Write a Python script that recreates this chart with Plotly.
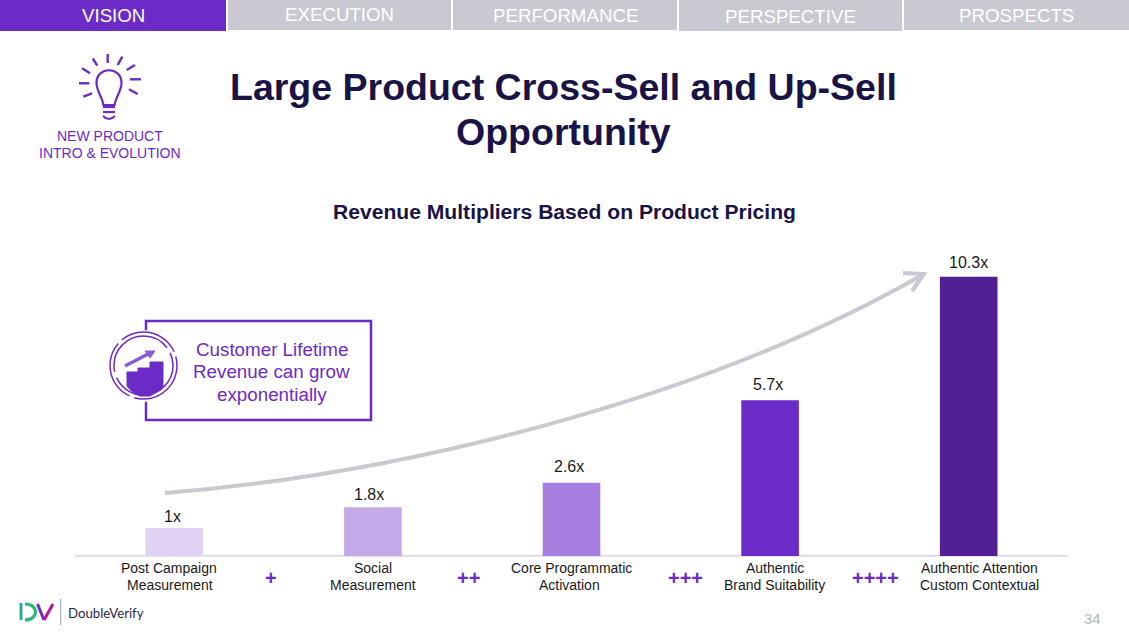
import plotly.graph_objects as go

W, H = 1129, 635
L, R, T, B = 75, 61, 240, 79
categories = ["Post Campaign<br>Measurement", "Social<br>Measurement", "Core Programmatic<br>Activation",
              "Authentic<br>Brand Suitability", "Authentic Attention<br>Custom Contextual"]
multipliers = [1.03, 1.8, 2.7, 5.75, 10.3]
value_labels = ["1x", "1.8x", "2.6x", "5.7x", "10.3x"]
bar_colors = ["#E0D2F3", "#C4A9E9", "#A77FE1", "#6C2BC6", "#522092"]
tabs = ["VISION", "EXECUTION", "PERFORMANCE", "PERSPECTIVE", "PROSPECTS"]
PURPLE = "#6C2BC6"
NAVY = "#1A1446"
GREY = "#C9C9D2"
FONT = "Liberation Sans"

PW, PH = W - L - R, H - T - B
px = lambda x: (x - L) / PW
py = lambda y: 1 - (y - T) / PH


def rect(x0, y0, x1, y1, fill=None, line=None, lw=0, layer="above"):
    return dict(type="rect", xref="paper", yref="paper", x0=px(x0), x1=px(x1), y0=py(y0), y1=py(y1),
                fillcolor=fill or "rgba(0,0,0,0)", line=dict(color=line or "rgba(0,0,0,0)", width=lw), layer=layer)


def path(cmds, color=PURPLE, lw=2, fill=None, dash=None):
    out = []
    for c in cmds:
        if isinstance(c, str):
            out.append(c)
        else:
            out.append(f"{px(c[0]):.5f},{py(c[1]):.5f}")
    return dict(type="path", xref="paper", yref="paper", path=" ".join(out),
                line=dict(color=color, width=lw, dash=dash or "solid"),
                fillcolor=fill or "rgba(0,0,0,0)", layer="above")


def seg(x0, y0, x1, y1, color=PURPLE, lw=2):
    return path(["M", (x0, y0), "L", (x1, y1)], color, lw)


def circle(cx, cy, r, fill=None, line=PURPLE, lw=1.5, dash=None):
    return dict(type="circle", xref="paper", yref="paper", x0=px(cx - r), x1=px(cx + r), y0=py(cy - r), y1=py(cy + r),
                fillcolor=fill or "rgba(0,0,0,0)", line=dict(color=line, width=lw, dash=dash or "solid"), layer="above")


def label(x, y, text, size=14, color="#1a1a1a", bold=False, family=FONT, anchor="center"):
    return dict(xref="paper", yref="paper", x=px(x), y=py(y), xanchor=anchor, yanchor="middle", showarrow=False,
                text=f"<b>{text}</b>" if bold else text, align="center",
                font=dict(size=size, color=color, family=family))


fig = go.Figure(go.Bar(
    x=categories, y=multipliers,
    marker=dict(color=bar_colors, line=dict(width=0)), width=0.29, hoverinfo="skip",
))

shapes = [rect(75, 554.8, 1068, 556.8, fill="#E0D9EE", layer="below")]
tab_boxes = [(0, 226, 31), (228, 451, 30), (453, 677, 30), (679, 902, 31), (904, 1129, 30)]
tab_y = [15, 14.5, 15, 16, 15]
annots = []
for i, (name, (a, b, h)) in enumerate(zip(tabs, tab_boxes)):
    shapes.append(rect(a, 0, b, h, fill=PURPLE if i == 0 else GREY))
    annots.append(label((a + b) / 2, tab_y[i], name, 18.7, "#ffffff"))

# value labels, offset from the top of each bar as in the reference
label_dx = [-2, -4, -3, -2, 0]
label_dy = [1, 2, 6, 5, 4]
for c, v, t, dx, dy in zip(categories, multipliers, value_labels, label_dx, label_dy):
    annots.append(dict(xref="x", yref="y", x=c, y=v, xanchor="center", yanchor="bottom", showarrow=False, text=t,
                       xshift=dx, yshift=dy, font=dict(size=16, color="#1a1a1a", family=FONT)))

# category labels: two lines, 17px apart, shifted like the reference
cat_dx = [[-5, -4], [0, 0], [0, -2], [4.5, 4.5], [10.5, 11]]
for c, dxs in zip(categories, cat_dx):
    for line_no, (txt, dx) in enumerate(zip(c.split("<br>"), dxs)):
        annots.append(dict(xref="x", yref="paper", x=c, y=py(568 + 17 * line_no), xanchor="center", yanchor="middle",
                           showarrow=False, text=txt, xshift=dx, font=dict(size=14, color="#1a1a1a", family=FONT)))

# growth arrow
shapes.append(path(["M", (165, 493), "C", (390, 475), (695, 405), (924, 274)], GREY, 4))
shapes.append(path(["M", (903, 273), "L", (924, 274), "L", (912, 291)], GREY, 4))

# call-out box and badge
shapes.append(rect(146, 321, 371, 420, line=PURPLE, lw=2.5))
shapes.append(circle(144, 366, 36, fill="#ffffff", line="#ffffff", lw=0))
shapes.append(circle(143.5, 365.5, 33.5, lw=1.5, dash="62px,5px"))
shapes.append(circle(143.5, 365.5, 29.5, lw=1.5, dash="80px,6px"))
shapes.append(path(["M", (127, 386), "L", (127, 372), "L", (138, 372), "L", (138, 368), "L", (150, 368), "L", (150, 362),
                    "L", (163, 362), "L", (163, 386), "Q", (158, 392), (150, 396), "L", (140, 396),
                    "Q", (132, 393), (127, 386), "Z"], PURPLE, 1, fill=PURPLE))
shapes.append(seg(125, 366, 150, 353, "#8A5AD6", 3.5))
shapes.append(path(["M", (145, 351), "L", (155, 351), "L", (150, 358), "Z"], "#8A5AD6", 1, fill="#8A5AD6"))

# light bulb
shapes.append(path(["M", (103.5, 105), "C", (102, 96), (96.5, 91), (96.5, 83), "C", (96.5, 66), (121.5, 66), (121.5, 83),
                    "C", (121.5, 91), (116, 96), (114.5, 105), "Z"], PURPLE, 2.2))
shapes.append(seg(103, 107, 115, 107, PURPLE, 2.2))
shapes.append(seg(103, 112, 115, 112, PURPLE, 2.2))
shapes.append(path(["M", (103, 116), "Q", (109, 122), (115, 116)], PURPLE, 2.2))
for r in [(107.7, 54, 107.7, 63), (92.7, 58.3, 97.3, 65.7), (122.3, 56.7, 117.7, 65), (82, 68.3, 90, 73.3),
          (135, 65, 126.7, 70), (79, 83.3, 89.3, 83.3), (130, 79.3, 141, 79.3), (83.3, 96.7, 92, 93.3),
          (129, 89.3, 137.7, 94)]:
    shapes.append(seg(*r, PURPLE, 2.4))

# logo
shapes.append(seg(21, 603, 21, 620, "#18A8A0", 2.8))
shapes.append(path(["M", (25, 604), "C", (39, 604), (39, 620), (25, 620)], "#2BB673", 3))
shapes.append(seg(37.5, 604, 44, 620, "#6C2BC6", 3))
shapes.append(seg(44, 620, 53, 604, "#B5179E", 3))
shapes.append(seg(60.7, 599, 60.7, 625, "#9a9aa5", 1))

annots += [
    label(563, 87, "Large Product Cross-Sell and Up-Sell", 37.5, NAVY, True),
    label(563, 132, "Opportunity", 37.5, NAVY, True),
    label(564, 211.5, "Revenue Multipliers Based on Product Pricing", 21.1, NAVY, True),
    label(110, 136, "NEW PRODUCT", 14, PURPLE),
    label(110, 153, "INTRO &amp; EVOLUTION", 14, PURPLE),
    label(271.5, 349.5, "Customer Lifetime", 18.8, PURPLE),
    label(271.5, 371.5, "Revenue can grow", 18.8, PURPLE),
    label(271.5, 394.5, "exponentially", 18.8, PURPLE),
    label(271, 578, "+", 20, PURPLE, True),
    label(468, 578, "++", 20, PURPLE, True),
    label(685, 578, "+++", 20, PURPLE, True),
    label(875, 578, "++++", 20, PURPLE, True),
    label(66, 613, "DoubleVerify", 13.2, "#2A2845", family="Lato", anchor="left"),
    label(1092, 618, "34", 15, "#b5b5bd"),
]

fig.update_layout(
    width=W, height=H, autosize=False, showlegend=False, plot_bgcolor="#ffffff", paper_bgcolor="#ffffff",
    margin=dict(l=L, r=R, t=T, b=B), shapes=shapes, annotations=annots,
    font=dict(family=FONT),
    xaxis=dict(type="category", showgrid=False, showline=False, ticks="", zeroline=False,
               showticklabels=False),
    yaxis=dict(visible=False, range=[0, 11.66], zeroline=False),
)
fig.write_html("out.html", config={"displayModeBar": False},
               post_script="document.body.style.margin='0';")
